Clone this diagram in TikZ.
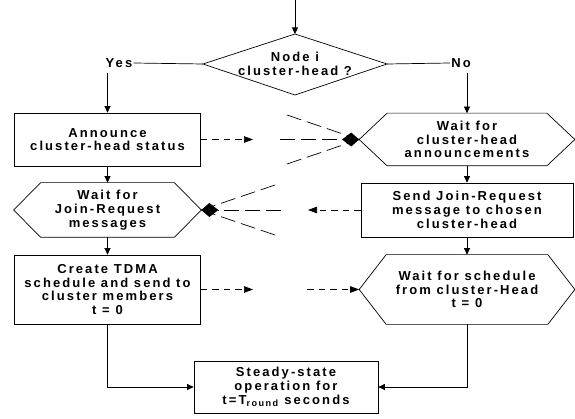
\documentclass[tikz,border=0pt]{standalone}
\usepackage{fontspec}
\newfontfamily\lblfont{Liberation Sans}[LetterSpace=16]
\usetikzlibrary{arrows.meta,calc}
\begin{document}
\begin{tikzpicture}[x=1pt,y=-1pt,
  line width=0.7pt,
  txt/.style={font=\lblfont\bfseries\fontsize{13}{13.8}\selectfont, align=center, inner sep=0pt},
  boxnode/.style={txt, draw},
  arr/.style={-{Triangle[length=6.5pt,width=6pt]}},
  darr/.style={dash pattern=on 6.5pt off 5pt, -{Triangle[length=9pt,width=6.5pt]}},
  ldash/.style={dash pattern=on 15pt off 6pt},
  kite/.style={ldash, -{Kite[length=17pt,width=14pt,inset=9pt]}}
]
\useasboundingbox (0,0) rectangle (575,419);

% decision diamond
\node[txt] (dia) at (295,64) {Node i\\cluster-head ?};
\coordinate (dt) at (295,34);
\coordinate (db) at (295,95);
\coordinate (dl) at (203,64);
\coordinate (dr) at (387,64);
\draw (dt) -- (dr) -- (db) -- (dl) -- cycle;
\coordinate (start) at (295,0);
\draw[arr] (start) -- (dt);

\node[txt, inner xsep=1pt] (yes) at (119,63) {Yes};
\node[txt, inner xsep=1pt] (no) at (461,63) {No};
\draw (dl) -- (yes.east);
\draw (dr) -- (no.west);

% left column
\node[boxnode, minimum width=186pt, minimum height=53pt] (box1) at (107.5,139.5) {Announce\\cluster-head status};
\node[txt, minimum width=133pt, minimum height=54pt] (L2) at (107.5,210) {Wait for\\Join-Request\\messages};
\coordinate (L2l) at ([xshift=-27pt]L2.west);
\coordinate (L2r) at ([xshift=27pt]L2.east);
\draw (L2.north west) -- (L2.north east) -- (L2r) -- (L2.south east) -- (L2.south west) -- (L2l) -- cycle;
\node[boxnode, minimum width=186pt, minimum height=69pt] (L3) at (107.5,289.5) {Create TDMA\\schedule and send to\\cluster members\\t = 0};

% right column
\node[txt, minimum width=159pt, minimum height=52pt] (hex1) at (467,139.5) {Wait for\\cluster-head\\announcements};
\coordinate (hex1l) at ([xshift=-28pt]hex1.west);
\coordinate (hex1r) at ([xshift=28pt]hex1.east);
\draw (hex1.north west) -- (hex1.north east) -- (hex1r) -- (hex1.south east) -- (hex1.south west) -- (hex1l) -- cycle;
\node[boxnode, minimum width=212pt, minimum height=54pt] (R2) at (467,210) {Send Join-Request\\message to chosen\\cluster-head};
\node[txt, minimum width=161pt, minimum height=69pt] (R3) at (467,289.5) {Wait for schedule\\from cluster-Head\\t = 0};
\coordinate (R3l) at ([xshift=-27pt]R3.west);
\coordinate (R3r) at ([xshift=27pt]R3.east);
\draw (R3.north west) -- (R3.north east) -- (R3r) -- (R3.south east) -- (R3.south west) -- (R3l) -- cycle;

% final box
\node[boxnode, minimum width=184pt, minimum height=52pt] (box4) at (286,387) {Steady-state\\operation for\\t=T\textsubscript{round} seconds};

% vertical flow
\coordinate (yesd) at (107.5,73);
\coordinate (nod) at (467,73);
\draw[arr] (yesd) -- (box1.north);
\draw[arr] (nod) -- (hex1.north);
\draw[arr] (box1.south) -- (L2.north);
\draw[arr] (L2.south) -- (L3.north);
\draw[arr] (hex1.south) -- (R2.north);
\draw[arr] (R2.south) -- (R3.north);
\draw[arr] (L3.south) |- (box4.west);
\draw[arr] (R3.south) |- (box4.east);

% row 1 messages
\coordinate (a1) at (253,139.5);
\draw[darr] (box1.east) -- (a1);
\coordinate (f1u) at (287,115);
\coordinate (f1m) at (280,139.5);
\coordinate (f1d) at (287,164);
\draw[ldash] (f1u) -- (hex1l);
\draw[ldash] (f1d) -- (hex1l);
\draw[kite] (f1m) -- (hex1l);

% row 2 messages
\coordinate (a2) at (308,210);
\draw[darr] (R2.west) -- (a2);
\coordinate (f2u) at (275,185);
\coordinate (f2m) at (281,210);
\coordinate (f2d) at (275,235);
\draw[ldash] (f2u) -- (L2r);
\draw[ldash] (f2d) -- (L2r);
\draw[kite] (f2m) -- (L2r);

% row 3 messages
\coordinate (a3) at (253,289.5);
\coordinate (b3) at (307,289.5);
\draw[darr] (L3.east) -- (a3);
\draw[darr] (b3) -- (R3l);
\end{tikzpicture}
\end{document}
